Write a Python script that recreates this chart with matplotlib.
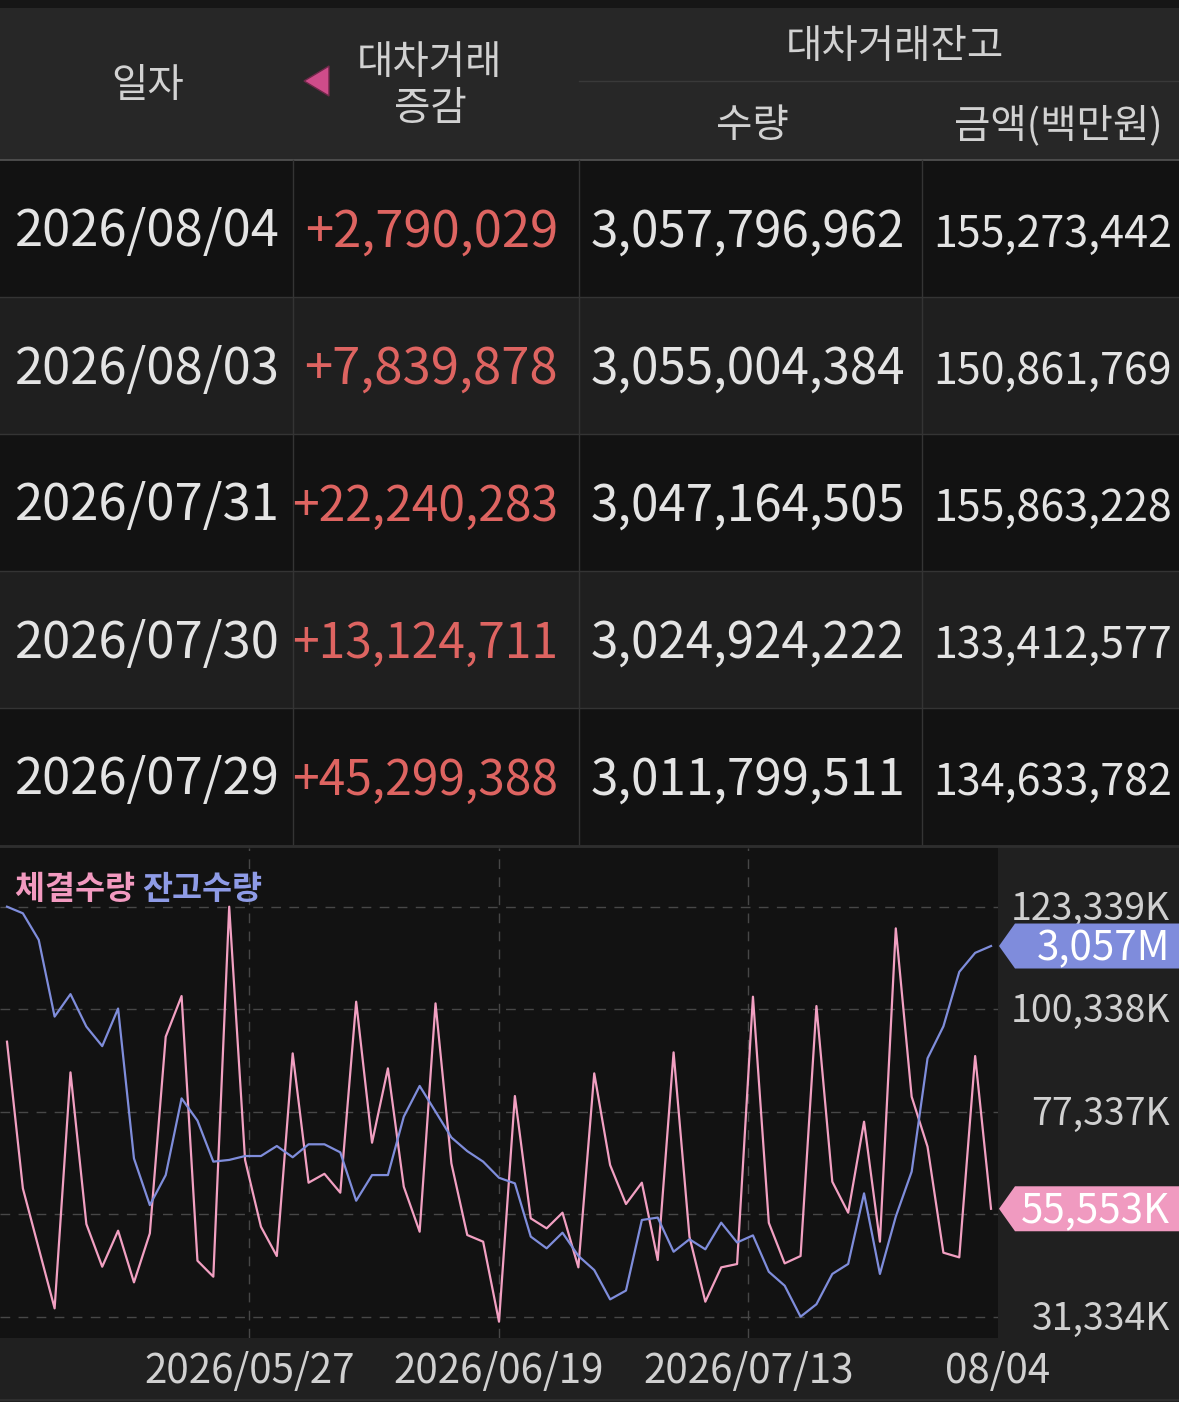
import numpy as np
import matplotlib.pyplot as plt
from matplotlib.patches import Rectangle, Polygon

plt.rcParams['font.family'] = ['Noto Sans CJK KR', 'DejaVu Sans']

W, H = 1179, 1402

# table rows (newest first)
dates = ['2026/08/04', '2026/08/03', '2026/07/31', '2026/07/30', '2026/07/29']
changes = [2790029, 7839878, 22240283, 13124711, 45299388]
bal_qty = [3057796962, 3055004384, 3047164505, 3024924222, 3011799511]
bal_amt = [155273442, 150861769, 155863228, 133412577, 134633782]

# chart series, oldest first
# 체결수량 (K shares)
trade_qty = [93045, 60133, 46670, 33205, 86163, 52129, 42555, 50633, 39039, 50035,
             94167, 103293, 43901, 40311, 123339, 66491, 51531, 44949, 90427, 61403,
             63397, 59161, 102021, 70381, 87061, 60507, 50409, 101647, 65743, 49661,
             48165, 30213, 80853, 53401, 51157, 54673, 42406, 85939, 65369, 56617,
             61403, 44051, 90651, 49287, 34701, 42406, 43154, 103143, 52395, 43303,
             44949, 101049, 61629, 54673, 75093, 48165, 118477, 80703, 69483, 45697,
             44650, 89827, 55553]
# 잔고수량 (M shares)
balance = [3073.9, 3071.2, 3060.3, 3028.9, 3038.1, 3024.8, 3016.8, 3032.2, 2970.8, 2951.7,
           2964.0, 2995.4, 2986.3, 2969.5, 2970.2, 2971.8, 2971.8, 2975.9, 2971.3, 2976.6,
           2976.6, 2973.3, 2953.5, 2964.0, 2964.0, 2987.9, 3000.5, 2990.0, 2979.4, 2973.8,
           2969.5, 2962.9, 2960.6, 2938.8, 2934.0, 2940.4, 2930.9, 2925.1, 2913.1, 2916.7,
           2945.6, 2946.6, 2932.6, 2937.7, 2933.6, 2944.5, 2936.4, 2939.3, 2924.4, 2918.7,
           2906.0, 2911.1, 2923.5, 2927.6, 2956.5, 2923.5, 2947.0, 2965.4, 3011.8, 3024.9,
           3047.2, 3055.0, 3057.8]
grid_vals = [31334, 54335, 77337, 100338, 123339]
x_labels = ['2026/05/27', '2026/06/19', '2026/07/13', '08/04']

PINK = '#f2a0c2'
BLUE = '#7f8ddb'
RED = '#de6461'
TXT = '#e4e4e4'
HEAD = '#d2d2d2'
LINE = '#343434'

fig = plt.figure(figsize=(W / 100, H / 100), dpi=100)
fig.patch.set_facecolor('#202020')
renderer = fig.canvas.get_renderer()


def fit_text(axis, xp, yp, s, size, max_w, **kw):
    # shrink a cell text until it fits its column, like the app does
    t = axis.text(xp, yp, s, fontsize=size, **kw)
    while t.get_window_extent(renderer).width > max_w and size > 10:
        size -= 0.5
        t.set_fontsize(size)
    return t


# background / table layer in pixel coords
tb = fig.add_axes([0, 0, 1, 1], zorder=0)
tb.set_xlim(0, W)
tb.set_ylim(H, 0)
tb.axis('off')

tb.add_patch(Rectangle((0, 0), W, 8, color='#161616', lw=0))
tb.add_patch(Rectangle((0, 8), W, 151, color='#272727', lw=0))
hfs = 28.5
tb.text(148, 86, '일자', color=HEAD, fontsize=hfs, ha='center', va='center')
tb.add_patch(Polygon([(304, 81), (329, 66), (329, 96)], closed=True,
                     facecolor='#cf4c8a', edgecolor='#6e2849', lw=1))
tb.text(430, 63, '대차거래', color=HEAD, fontsize=hfs, ha='center', va='center')
tb.text(430, 109, '증감', color=HEAD, fontsize=hfs, ha='center', va='center')
tb.text(895, 47, '대차거래잔고', color=HEAD, fontsize=hfs, ha='center', va='center')
tb.plot([579, W], [81, 81], color='#393939', lw=1)
tb.text(752, 126, '수량', color=HEAD, fontsize=hfs, ha='center', va='center')
tb.text(1058, 126, '금액(백만원)', color=HEAD, fontsize=hfs, ha='center', va='center')
tb.plot([0, W], [159.5, 159.5], color='#555555', lw=1.2)

row_top = 160
row_h = 137
for r in range(len(dates)):
    y0 = row_top + r * row_h
    bg = '#121212' if r % 2 == 0 else '#1f1f1f'
    tb.add_patch(Rectangle((0, y0), W, row_h, color=bg, lw=0))
    if r > 0:
        tb.plot([0, W], [y0, y0], color=LINE, lw=1)
    base = y0 + row_h / 2 + 18
    fit_text(tb, 147, base, dates[r], 36.5, 266, color=TXT, ha='center', va='baseline')
    fit_text(tb, 558, base, f'+{changes[r]:,}', 36.5, 266, color=RED, ha='right', va='baseline')
    fit_text(tb, 905, base, f'{bal_qty[r]:,}', 35.5, 315, color=TXT, ha='right', va='baseline')
    fit_text(tb, 1172, base, f'{bal_amt[r]:,}', 31, 240, color=TXT, ha='right', va='baseline')
table_bottom = row_top + len(dates) * row_h
for xc in [293, 579, 922]:
    tb.plot([xc, xc], [row_top, table_bottom], color=LINE, lw=1)
tb.plot([0, W], [table_bottom + 1, table_bottom + 1], color='#2e2e2e', lw=2)
tb.plot([0, W], [H - 2, H - 2], color='#2e2e2e', lw=1.5)

# chart
top_px, bot_px, right_px = 848, 1338, 998
ax = fig.add_axes([0, (H - bot_px) / H, right_px / W, (bot_px - top_px) / H], zorder=1)
ax.set_facecolor('#121212')
for s in ax.spines.values():
    s.set_visible(False)
ax.set_xticks([])
ax.set_yticks([])

x = np.arange(len(trade_qty))
ax.set_xlim(-0.441, 62.44)
ax.set_ylim(26554, 136511)

# balance line on its own scale: min/max sit on the outer grid lines
lo, hi = ax.get_ylim()
f_min = (grid_vals[0] - lo) / (hi - lo)
f_max = (grid_vals[-1] - lo) / (hi - lo)
ax2 = ax.twinx()
ax2.set_zorder(2)
ax2.patch.set_visible(False)
ax2.axis('off')
bmin, bmax = min(balance), max(balance)
span = (bmax - bmin) / (f_max - f_min)
ax2.set_ylim(bmin - f_min * span, bmin - f_min * span + span)

for g in grid_vals:
    ax.axhline(g, color='#474747', lw=1, dashes=(7, 6), zorder=0)
xlo, xhi = ax.get_xlim()
xt = xlo + (xhi - xlo) * np.array([0.25, 0.5, 0.75, 1.0])
for v in xt[:3]:
    ax.axvline(v, color='#474747', lw=1, dashes=(7, 6), zorder=0)

ax.plot(x, trade_qty, color=PINK, lw=1.6, zorder=3)
ax2.plot(x, balance, color=BLUE, lw=1.6, zorder=3)

# overlay for labels and tags
ov = fig.add_axes([0, 0, 1, 1], zorder=10)
ov.set_xlim(0, W)
ov.set_ylim(H, 0)
ov.axis('off')
ov.patch.set_visible(False)

t1 = ov.text(15, 889, '체결수량 ', color='#f29ac0', fontsize=23.5, fontweight='bold',
             ha='left', va='center')
bb = t1.get_window_extent(renderer)
ov.text(bb.x1, 889, '잔고수량', color='#8e9be6', fontsize=23.5, fontweight='bold',
        ha='left', va='center')


def py(axis, xv, yv):
    return H - axis.transData.transform((xv, yv))[1]


def px(axis, xv, yv):
    return axis.transData.transform((xv, yv))[0]


tag_y = [py(ax2, x[-1], balance[-1]), py(ax, x[-1], trade_qty[-1])]

for g in grid_vals:
    gy = py(ax, 0, g)
    # labels under a value tag are hidden, as in the app
    if any(abs(gy - t) < 20 for t in tag_y):
        continue
    ov.text(1170, gy + 13, f'{g:,}K', color='#d0d0d0', fontsize=27,
            ha='right', va='baseline', zorder=2)

for v, lab in zip(xt, x_labels):
    ov.text(px(ax, v, 0), 1383, lab, color='#d0d0d0', fontsize=29, ha='center', va='baseline')


def tag(yc, color, label):
    h2 = 22.5
    ov.add_patch(Polygon([(999, yc), (1015, yc - h2), (W, yc - h2), (W, yc + h2), (1015, yc + h2)],
                         closed=True, color=color, lw=0, zorder=5))
    ov.text(1170, yc + 14, label, color='white', fontsize=29, ha='right', va='baseline', zorder=6)


tag(tag_y[0], '#7f8cdc', f'{bal_qty[0] // 1000000:,}M')
tag(tag_y[1], '#f09ac0', f'{trade_qty[-1]:,}K')

fig.savefig('out.png', dpi=100, facecolor=fig.get_facecolor())
